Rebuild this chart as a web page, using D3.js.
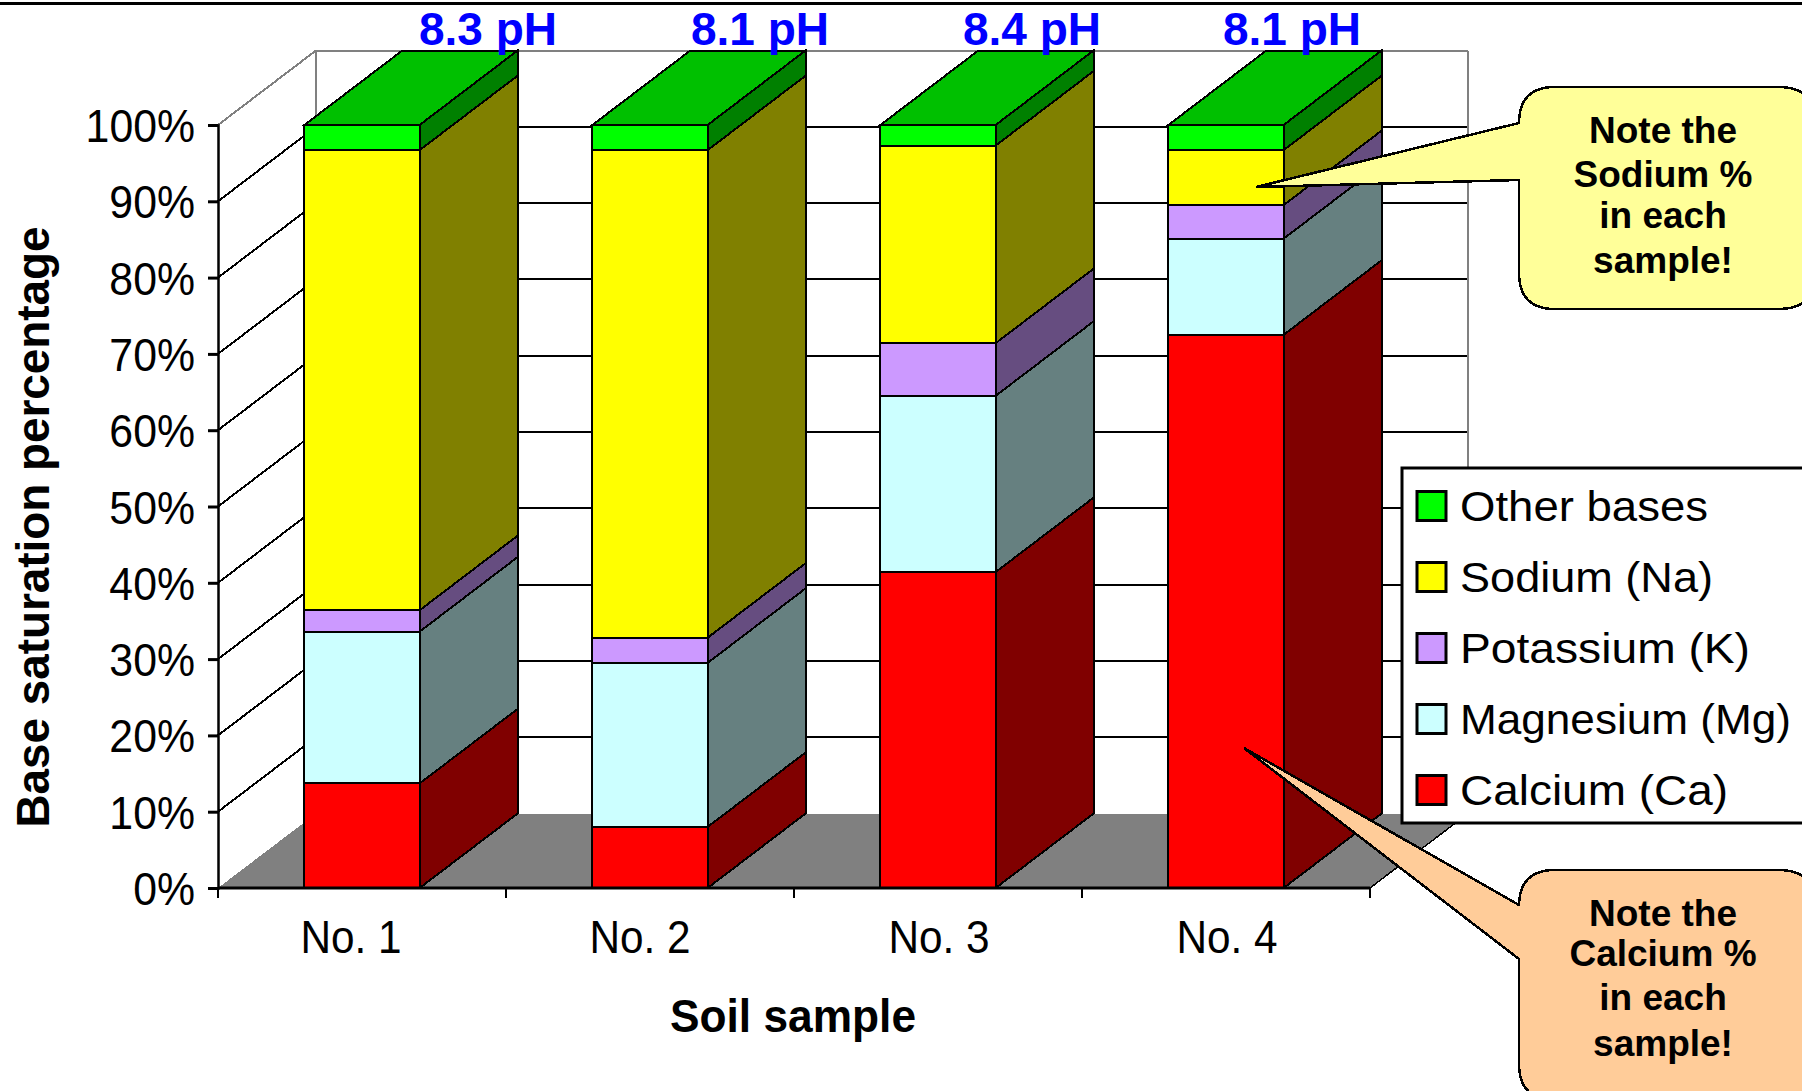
<!DOCTYPE html>
<html><head><meta charset="utf-8">
<script src="https://cdn.jsdelivr.net/npm/d3@7/dist/d3.min.js"></script>
<style>html,body{margin:0;padding:0;background:#fff;overflow:hidden}svg{display:block}text{font-family:"Liberation Sans",Arial,sans-serif}</style>
</head><body><div id="chart"></div>
<script>
// ---------- data ----------
const samples = ["No. 1","No. 2","No. 3","No. 4"];
const phLabels = ["8.3 pH","8.1 pH","8.4 pH","8.1 pH"];
const seriesNames = ["Calcium (Ca)","Magnesium (Mg)","Potassium (K)","Sodium (Na)","Other bases"];
const calcium   = [13.7, 8.0, 41.4, 72.5];
const magnesium = [19.9,21.5, 23.1, 12.6];
const potassium = [ 2.8, 3.3,  6.9,  4.4];
const sodium    = [60.3,63.9, 25.9,  7.2];
const other     = [ 3.3, 3.3,  2.7,  3.3];
const yTicks = [0,10,20,30,40,50,60,70,80,90,100];
const frontColors = ["#ff0000","#ccffff","#cc99ff","#ffff00","#00ff00"];
const sideColors  = ["#800000","#668080","#664d80","#808000","#008000"];
const topColor = "#00c000";
const calloutSodium = ["Note the","Sodium %","in each","sample!"];
const calloutCalcium = ["Note the","Calcium %","in each","sample!"];

// ---------- layout ----------
const W=1802,H=1091,dx=98,dy=74.5;
const x=d3.scaleBand().domain(samples).range([218,1370]).paddingInner(0.6).paddingOuter(0.3);
const y=d3.scaleLinear().domain([0,100]).range([888,125]);
const svg=d3.select("#chart").append("svg").attr("width",W).attr("height",H);
const poly=d3.line();
const black="#000",gray="#808080";
const squeeze=(sel,f)=>sel.each(function(){this.setAttribute("textLength",this.getComputedTextLength()*f);this.setAttribute("lengthAdjust","spacingAndGlyphs");});

svg.append("rect").attr("x",0).attr("y",2).attr("width",W).attr("height",3).attr("fill",black);

const crisp=svg.append("g").attr("shape-rendering","crispEdges");
const [x0,x1]=x.range(),y0=y(0),y100=y(100);
// floor
crisp.append("path").attr("d",poly([[x0,y0],[x1,y0],[x1+dx,y0-dy],[x0+dx,y0-dy]])+"Z").attr("fill",gray);
// walls: gridlines
crisp.selectAll(".bg").data(yTicks.filter(d=>d>0)).join("line")
  .attr("x1",x0+dx).attr("x2",x1+dx).attr("y1",d=>y(d)-dy).attr("y2",d=>y(d)-dy)
  .attr("stroke",d=>d===100?gray:black).attr("stroke-width",2);
crisp.selectAll(".sg").data(yTicks.filter(d=>d>0)).join("line")
  .attr("x1",x0).attr("x2",x0+dx).attr("y1",d=>y(d)).attr("y2",d=>y(d)-dy)
  .attr("stroke",d=>d===100?gray:black).attr("stroke-width",2);
crisp.append("line").attr("x1",x0+dx).attr("x2",x0+dx).attr("y1",y100-dy).attr("y2",y0-dy).attr("stroke",gray).attr("stroke-width",2);
crisp.append("line").attr("x1",x1+dx).attr("x2",x1+dx).attr("y1",y100-dy).attr("y2",y0-dy).attr("stroke",gray).attr("stroke-width",2);
crisp.append("line").attr("x1",x1).attr("x2",x1+dx).attr("y1",y0).attr("y2",y0-dy).attr("stroke",black).attr("stroke-width",1.5);

// stacked bars
const rows=samples.map((s,i)=>({sample:s,Ca:calcium[i],Mg:magnesium[i],K:potassium[i],Na:sodium[i],Other:other[i]}));
const stacked=d3.stack().keys(["Ca","Mg","K","Na","Other"])(rows);
samples.forEach((s,i)=>{
  const g=crisp.append("g");
  const bx=x(s),bw=x.bandwidth();
  stacked.forEach((layer,k)=>{
    const [a,b]=layer[i];
    g.append("path").attr("d",poly([[bx+bw,y(a)],[bx+bw+dx,y(a)-dy],[bx+bw+dx,y(b)-dy],[bx+bw,y(b)]])+"Z")
      .attr("fill",sideColors[k]).attr("stroke",black).attr("stroke-width",2);
    g.append("rect").attr("x",bx).attr("y",y(b)).attr("width",bw).attr("height",y(a)-y(b))
      .attr("fill",frontColors[k]).attr("stroke",black).attr("stroke-width",2);
  });
  const top=y(stacked[4][i][1]);
  g.append("path").attr("d",poly([[bx,top],[bx+bw,top],[bx+bw+dx,top-dy],[bx+dx,top-dy]])+"Z")
    .attr("fill",topColor).attr("stroke",black).attr("stroke-width",2);
});

// axes
const yAxis=svg.append("g").attr("transform",`translate(${x0},0)`)
  .call(d3.axisLeft(y).tickValues(yTicks).tickFormat(d=>d+"%").tickSize(10).tickPadding(13));
yAxis.selectAll("text").attr("font-size",46).attr("fill",black).attr("dy","0.36em").call(squeeze,0.93);
yAxis.selectAll("line").attr("stroke",black).attr("stroke-width",3);
yAxis.select(".domain").attr("stroke",black).attr("stroke-width",2.5);
const xAxis=svg.append("g").attr("transform",`translate(0,${y0})`)
  .call(d3.axisBottom(x).tickSize(0).tickPadding(32));
const labelShift=[-11,-10,1,1];
xAxis.selectAll("text").attr("font-size",46).attr("fill",black).attr("x",(d,i)=>labelShift[i]).call(squeeze,0.92);
xAxis.select(".domain").attr("stroke",black).attr("stroke-width",3).attr("d",`M${x0},0H${x1}`);
svg.append("g").selectAll("line").data(d3.range(5)).join("line")
  .attr("x1",i=>x0+i*x.step()).attr("x2",i=>x0+i*x.step()).attr("y1",y0).attr("y2",y0+10)
  .attr("stroke",black).attr("stroke-width",2);

// titles
svg.append("text").attr("transform","translate(49,527) rotate(-90)").attr("text-anchor","middle")
  .attr("font-size",46).attr("font-weight","bold").attr("fill",black).text("Base saturation percentage")
  .attr("textLength",601).attr("lengthAdjust","spacingAndGlyphs");
svg.append("text").attr("x",793).attr("y",1032).attr("text-anchor","middle")
  .attr("font-size",46).attr("font-weight","bold").attr("fill",black).text("Soil sample")
  .attr("textLength",246).attr("lengthAdjust","spacingAndGlyphs");

// pH labels
const phCentre=[488,760,1032,1292];
svg.selectAll(".ph").data(phLabels).join("text").attr("x",(d,i)=>phCentre[i]).attr("y",45)
  .attr("text-anchor","middle").attr("font-size",46).attr("font-weight","bold").attr("fill","#0000ff").text(d=>d)
  .attr("textLength",138).attr("lengthAdjust","spacing");

// legend
const legend=svg.append("g");
legend.append("rect").attr("x",1402).attr("y",468).attr("width",W).attr("height",355)
  .attr("fill","#fff").attr("stroke",black).attr("stroke-width",3);
const order=d3.range(seriesNames.length).reverse();
const ly=d3.scalePoint().domain(order).range([506,790]);
const legendTextWidth=[268,331,290,253,248];
legend.selectAll("rect.sw").data(order).join("rect").attr("class","sw")
  .attr("x",1417).attr("y",d=>ly(d)-14.5).attr("width",29).attr("height",29)
  .attr("fill",d=>frontColors[d]).attr("stroke",black).attr("stroke-width",3);
legend.selectAll("text").data(order).join("text").attr("x",1460).attr("y",d=>ly(d)+15)
  .attr("font-size",43).attr("fill",black).text(d=>seriesNames[d])
  .attr("textLength",d=>legendTextWidth[d]).attr("lengthAdjust","spacingAndGlyphs");

// callouts
function callout(tip,yA,yB,top,bottom,fill,lines,baselines){
  const l=1519,r=1815,c=36,p=d3.path();
  p.moveTo(tip[0],tip[1]);
  p.lineTo(l,yA);
  p.lineTo(l,top+c);
  p.quadraticCurveTo(l,top,l+c,top);
  p.lineTo(r-c,top);
  p.quadraticCurveTo(r,top,r,top+c);
  p.lineTo(r,bottom-c);
  p.quadraticCurveTo(r,bottom,r-c,bottom);
  p.lineTo(l+c,bottom);
  p.quadraticCurveTo(l,bottom,l,bottom-c);
  p.lineTo(l,yB);
  p.closePath();
  svg.append("path").attr("d",p.toString()).attr("fill",fill).attr("stroke",black).attr("stroke-width",2.5).attr("shape-rendering","crispEdges");
  svg.append("g").selectAll("text").data(lines).join("text").attr("x",1663).attr("y",(d,i)=>baselines[i])
    .attr("text-anchor","middle").attr("font-size",37).attr("font-weight","bold").attr("fill",black).text(d=>d);
}
callout([1256,187],123,180,87,309,"#ffff99",calloutSodium,[143,187,228,273]);
callout([1244,748],905,959,870,1100,"#ffcc99",calloutCalcium,[926,966,1010,1056]);
</script></body></html>
